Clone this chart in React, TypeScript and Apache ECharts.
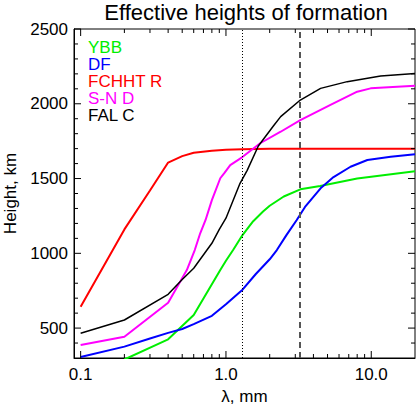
import React, { useEffect, useRef } from "react";
import * as echarts from "echarts";

const FONT = "Liberation Sans, Arial, Helvetica, sans-serif";

const seriesNames = ["YBB", "DF", "FCHHT R", "S-N D", "FAL C"];
const seriesColors = ["#00ee00", "#0000ff", "#ff0000", "#ff00ff", "#000000"];

// [wavelength mm, height km]
const ybb: [number, number][] = [
  [0.2, 290], [0.4, 425], [0.6, 587], [0.8, 793], [0.914, 888], [1.0, 950],
  [1.12, 1022], [1.3, 1122], [1.54, 1215], [1.8, 1280], [2.0, 1318], [2.5, 1380],
  [3.25, 1428], [4.45, 1450], [8.0, 1500], [20, 1548],
];
const df: [number, number][] = [
  [0.1, 307], [0.2, 376], [0.3, 430], [0.4, 468], [0.5, 494], [0.6, 527], [0.8, 582],
  [1.0, 660], [1.3, 757], [1.6, 860], [2.0, 960], [2.24, 1022], [2.6, 1120],
  [3.07, 1223], [3.5, 1310], [4.48, 1435], [5.5, 1510], [7.2, 1579], [9.4, 1624],
  [13.6, 1645], [20, 1663],
];
const fchhtr: [number, number][] = [
  [0.1, 643], [0.2, 1160], [0.3, 1420], [0.4, 1607], [0.5, 1650], [0.6, 1672],
  [0.8, 1686], [1.0, 1692], [1.3, 1696], [2.0, 1699], [5.0, 1700], [10, 1700], [20, 1700],
];
const snd: [number, number][] = [
  [0.1, 387], [0.2, 442], [0.4, 670], [0.538, 888], [0.61, 1022], [0.665, 1134],
  [0.724, 1223], [0.8, 1356], [0.914, 1502], [0.98, 1540], [1.07, 1590], [1.29, 1642],
  [1.72, 1736], [2.38, 1813], [3.25, 1891], [5.24, 1992], [8.0, 2081], [9.9, 2103],
  [20, 2121],
];
const falc: [number, number][] = [
  [0.1, 465], [0.2, 554], [0.4, 726], [0.5, 825], [0.6, 900], [0.74, 1022], [0.8, 1067],
  [0.9, 1160], [1.0, 1235], [1.25, 1468], [1.4, 1555], [1.67, 1718], [2.12, 1851],
  [2.38, 1914], [3.25, 2025], [4.48, 2103], [6.83, 2148], [11.6, 2186], [20, 2202],
];
const seriesData = [ybb, df, fchhtr, snd, falc];

const xMajorTicks = [0.1, 1, 10];
const xMinorTicks = [0.2, 0.3, 0.4, 0.5, 0.6, 0.7, 0.8, 0.9, 2, 3, 4, 5, 6, 7, 8, 9];
const yMajorTicks = [500, 1000, 1500, 2000, 2500];
const yMinorTicks = [400, 600, 700, 800, 900, 1100, 1200, 1300, 1400, 1600, 1700, 1800, 1900, 2100, 2200, 2300, 2400];
const verticalMarks = [1.3, 3.2];

const X_MIN = 0.09;
const X_MAX = 20;
const Y_MIN = 300;
const Y_MAX = 2500;

const MAJOR_LEN = 7;
const MINOR_LEN = 4;

export default function App() {
  const ref = useRef<HTMLDivElement>(null);
  useEffect(() => {
    if (!ref.current) return;
    const chart = echarts.init(ref.current, null, { renderer: "svg" });

    // tick items: [x, y, length, orientation(0 = x-axis tick, 1 = y-axis tick)]
    const tickItems: number[][] = [
      ...xMajorTicks.map((v) => [v, Y_MIN, MAJOR_LEN, 0]),
      ...xMinorTicks.map((v) => [v, Y_MIN, MINOR_LEN, 0]),
      ...yMajorTicks.map((v) => [X_MIN, v, MAJOR_LEN, 1]),
      ...yMinorTicks.map((v) => [X_MIN, v, MINOR_LEN, 1]),
    ];

    const option: any = {
      animation: false,
      backgroundColor: "#fff",
      textStyle: { fontFamily: FONT },
      title: {
        text: "Effective heights of formation",
        left: 246,
        top: 1,
        padding: 0,
        textAlign: "center",
        textStyle: { color: "#000", fontSize: 22, fontWeight: "normal", fontFamily: FONT },
      },
      grid: {
        left: 74, right: 2, top: 29, bottom: 59,
        show: true, borderColor: "#000", borderWidth: 1, backgroundColor: "transparent",
        containLabel: false, outerBoundsMode: "none",
      },
      legend: {
        orient: "vertical",
        left: 83,
        top: 39,
        padding: 0,
        itemWidth: 0,
        itemHeight: 17,
        itemGap: 0,
        selectedMode: false,
        textStyle: { fontSize: 17, fontFamily: FONT, lineHeight: 16 },
        data: seriesNames.map((n, i) => ({ name: n, icon: "none", textStyle: { color: seriesColors[i] } })),
      },
      xAxis: {
        type: "log",
        logBase: 10,
        min: X_MIN,
        max: X_MAX,
        name: "λ, mm",
        nameLocation: "middle",
        nameGap: 24,
        nameTextStyle: { color: "#000", fontSize: 17, fontFamily: FONT },
        axisLine: { show: true, lineStyle: { color: "#000", width: 1 } },
        axisTick: { show: false },
        axisLabel: {
          customValues: xMajorTicks,
          margin: 8,
          color: "#000",
          fontSize: 17,
          fontFamily: FONT,
          formatter: (v: number) => v.toFixed(1),
        },
        splitLine: { show: false },
        minorTick: { show: false },
      },
      yAxis: {
        type: "value",
        min: Y_MIN,
        max: Y_MAX,
        name: "Height, km",
        nameLocation: "middle",
        nameGap: 51,
        nameTextStyle: { color: "#000", fontSize: 17, fontFamily: FONT },
        axisLine: { show: true, lineStyle: { color: "#000", width: 1 } },
        axisTick: { show: false },
        axisLabel: {
          customValues: yMajorTicks,
          margin: 6,
          color: "#000",
          fontSize: 17,
          fontFamily: FONT,
          formatter: (v: number) => String(v),
        },
        splitLine: { show: false },
      },
      series: [
        ...seriesNames.map((n, i) => ({
          name: n,
          type: "line",
          data: seriesData[i],
          symbol: "none",
          clip: true,
          z: 3,
          lineStyle: { color: seriesColors[i], width: i === 4 ? 1.5 : 2 },
          itemStyle: { color: seriesColors[i] },
          markLine:
            i === 0
              ? {
                  silent: true,
                  symbol: ["none", "none"],
                  label: { show: false },
                  z: 4,
                  data: [
                    { xAxis: verticalMarks[0], lineStyle: { color: "#000", width: 1, type: [1, 2] } },
                    { xAxis: verticalMarks[1], lineStyle: { color: "#555", width: 2, type: [6, 4] } },
                  ],
                }
              : undefined,
        })),
        {
          name: "ticks",
          type: "custom",
          silent: true,
          clip: false,
          z: 5,
          data: tickItems,
          renderItem: (params: any, api: any) => {
            const x = api.value(0);
            const y = api.value(1);
            const len = api.value(2);
            const orient = api.value(3);
            const style = { stroke: "#000", lineWidth: 1 };
            if (orient === 0) {
              const b = api.coord([x, Y_MIN]);
              const t = api.coord([x, Y_MAX]);
              return {
                type: "group",
                children: [
                  { type: "line", shape: { x1: b[0], y1: b[1], x2: b[0], y2: b[1] - len }, style },
                  { type: "line", shape: { x1: t[0], y1: t[1], x2: t[0], y2: t[1] + len }, style },
                ],
              };
            }
            const l = api.coord([X_MIN, y]);
            const r = api.coord([X_MAX, y]);
            return {
              type: "group",
              children: [
                { type: "line", shape: { x1: l[0], y1: l[1], x2: l[0] + len, y2: l[1] }, style },
                { type: "line", shape: { x1: r[0], y1: r[1], x2: r[0] - len, y2: r[1] }, style },
              ],
            };
          },
        },
      ],
    };
    chart.setOption(option);
    return () => chart.dispose();
  }, []);
  return <div ref={ref} style={{ position: "fixed", left: 0, top: 0, width: 417, height: 417 }} />;
}
